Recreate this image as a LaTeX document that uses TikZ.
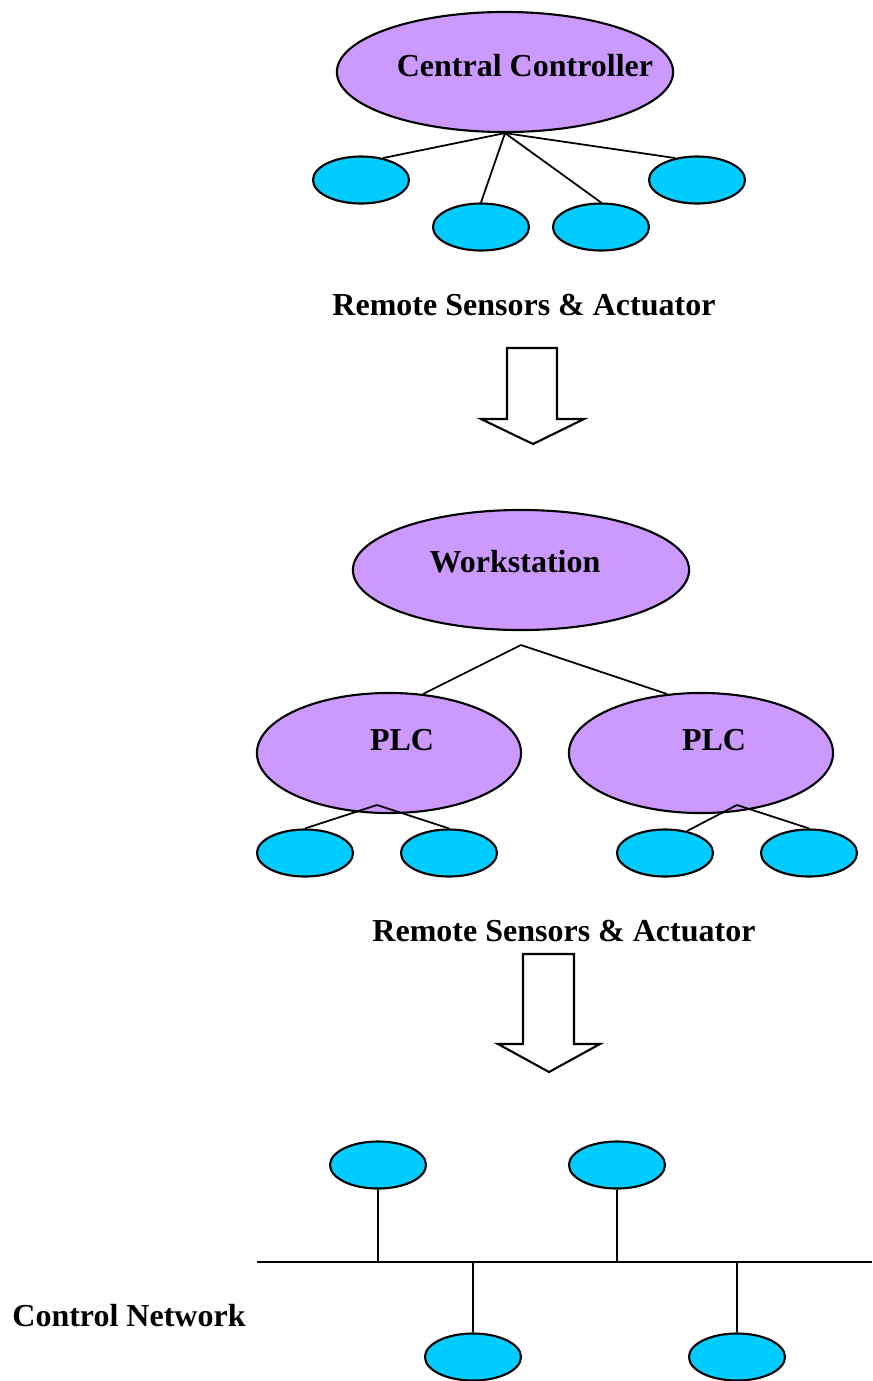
\documentclass[tikz,border=0pt]{standalone}
\usepackage{fontspec}
\setmainfont{Liberation Serif}
\usetikzlibrary{shapes.geometric}
\definecolor{hostfill}{HTML}{CC99FF}
\definecolor{devfill}{HTML}{00CCFF}
\begin{document}
\begin{tikzpicture}[x=0.01cm,y=-0.01cm,
  host/.style={ellipse,draw,line width=0.6pt,fill=hostfill,inner sep=0pt,minimum height=1.2cm},
  dev/.style={ellipse,draw,line width=0.6pt,fill=devfill,inner sep=0pt,minimum width=0.96cm,minimum height=0.47cm},
  lbl/.style={font=\fontsize{9.1}{11}\selectfont\bfseries,anchor=base,inner sep=0pt},
  wire/.style={line width=0.5pt},
  bus/.style={line width=0.65pt},
  bigarrow/.style={draw,line width=0.6pt,fill=white,line join=miter}]
\useasboundingbox (0,0) rectangle (872,1381);
\clip (0,0) rectangle (872,1381);

% ---- centralised control ----
\node[host,minimum width=3.36cm] (cc) at (505,72) {};
\node[lbl] (cctext) at (525,76) {Central Controller};
\node[dev] (s1) at (361,180) {};
\node[dev] (s2) at (481,227) {};
\node[dev] (s3) at (601,227) {};
\node[dev] (s4) at (697,180) {};
\draw[wire] (cc.south) -- (s1.45);
\draw[wire] (cc.south) -- (s2.north);
\draw[wire] (cc.south) -- (s3.north);
\draw[wire] (cc.south) -- (s4.135);
\node[lbl] (rs1) at (524,315) {Remote Sensors \& Actuator};

% ---- first transition arrow ----
\draw[bigarrow] (507,348) -- (557,348) -- (557,419) -- (584,419) -- (533,444)
  -- (481,419) -- (507,419) -- cycle;

% ---- distributed control ----
\node[host,minimum width=3.36cm] (ws) at (521,570) {};
\node[lbl] (wstext) at (515,572) {Workstation};
\node[host,minimum width=2.64cm] (plcA) at (389,753) {};
\node[host,minimum width=2.64cm] (plcB) at (701,753) {};
\node[lbl] (plcAtext) at (402,750) {PLC};
\node[lbl] (plcBtext) at (714,750) {PLC};
\coordinate (wsfork) at (521,645);
\draw[wire] (wsfork) -- (plcA.60);
\draw[wire] (wsfork) -- (plcB.120);
\node[dev] (d1) at (305,853) {};
\node[dev] (d2) at (449,853) {};
\node[dev] (d3) at (665,853) {};
\node[dev] (d4) at (809,853) {};
\coordinate (forkA) at (377,805);
\coordinate (forkB) at (737,805);
\draw[wire] (forkA) -- (d1.north);
\draw[wire] (forkA) -- (d2.north);
\draw[wire] (forkB) -- (d3.45);
\draw[wire] (forkB) -- (d4.north);
\node[lbl] (rs2) at (564,941) {Remote Sensors \& Actuator};

% ---- second transition arrow ----
\draw[bigarrow] (523,954) -- (574,954) -- (574,1044) -- (600,1044) -- (549,1072)
  -- (498,1044) -- (523,1044) -- cycle;

% ---- networked control ----
\coordinate (busL) at (257,1262);
\coordinate (busR) at (872,1262);
\draw[bus] (busL) -- (busR);
\node[dev] (n1) at (378,1165) {};
\node[dev] (n2) at (617,1165) {};
\node[dev] (n3) at (473,1357) {};
\node[dev] (n4) at (737,1357) {};
\draw[wire] (n1.south) -- (n1.south |- busL);
\draw[wire] (n2.south) -- (n2.south |- busL);
\draw[wire] (n3.north) -- (n3.north |- busL);
\draw[wire] (n4.north) -- (n4.north |- busL);
\node[lbl] (cn) at (129,1326) {Control Network};
\end{tikzpicture}
\end{document}
